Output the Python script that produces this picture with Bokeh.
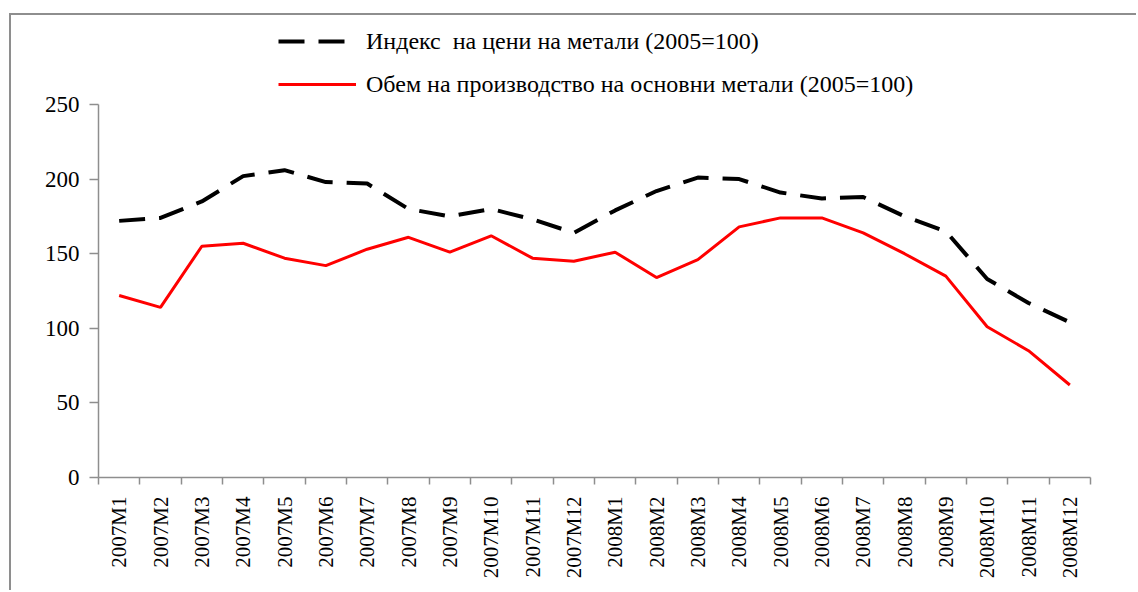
import math
from bokeh.plotting import figure
from bokeh.models import (FixedTicker, Legend, LegendItem, Range1d)
from bokeh.embed import file_html
from bokeh.resources import INLINE

months = ["2007M1", "2007M2", "2007M3", "2007M4", "2007M5", "2007M6",
          "2007M7", "2007M8", "2007M9", "2007M10", "2007M11", "2007M12",
          "2008M1", "2008M2", "2008M3", "2008M4", "2008M5", "2008M6",
          "2008M7", "2008M8", "2008M9", "2008M10", "2008M11", "2008M12"]
price_index = [172, 174, 185, 202, 206, 198, 197, 180, 175, 180, 173, 164,
               179, 192, 201, 200, 191, 187, 188, 175, 165, 133, 117, 104]
production = [122, 114, 155, 157, 147, 142, 153, 161, 151, 162, 147, 145,
              151, 134, 146, 168, 174, 174, 164, 150, 135, 101, 85, 62]
y_ticks = [0, 50, 100, 150, 200, 250]
label_price = "Индекс  на цени на метали (2005=100)"
label_prod = "Обем на производство на основни метали (2005=100)"

FONT = "Liberation Serif"
AX = "#8e8e8e"

# layout (page pixels): axis area 98..1090 x 104..477, frame extended up to 20
Y_MAX = 250
frame_top, axis_top, axis_bottom = 20, 104, 477
y_end = Y_MAX * (axis_bottom - frame_top) / (axis_bottom - axis_top)

xs = [i + 0.5 for i in range(len(months))]

p = figure(width=1127, height=577, output_backend="svg", toolbar_location=None,
           x_range=Range1d(0, len(months)), y_range=Range1d(0, y_end),
           min_border_left=87, min_border_right=48, min_border_top=5,
           min_border_bottom=115)
p.styles = {"border-left": "2px solid #8e8e8e", "border-top": "2px solid #8e8e8e",
            "margin-left": "9px", "margin-top": "13px"}
p.outline_line_color = None
p.xgrid.grid_line_color = None
p.ygrid.grid_line_color = None
p.background_fill_color = "white"
p.border_fill_color = "white"

r1 = p.line(xs, price_index, line_color="black", line_width=4, line_dash="26 14")
r2 = p.line(xs, production, line_color="#ff0000", line_width=3)

# y axis
ya = p.yaxis[0]
ya.bounds = (0, Y_MAX)
ya.ticker = FixedTicker(ticks=y_ticks)
ya.axis_line_color = AX
ya.axis_line_width = 1.5
ya.major_tick_line_color = AX
ya.major_tick_line_width = 1.5
ya.major_tick_out = 9
ya.major_tick_in = 0
ya.minor_tick_line_color = None
ya.major_label_text_font = FONT
ya.major_label_text_font_size = "23px"
ya.major_label_text_color = "black"
ya.major_label_standoff = 10

# x axis
xa = p.xaxis[0]
xa.ticker = FixedTicker(ticks=xs, minor_ticks=list(range(len(months) + 1)))
xa.major_label_overrides = {x: m for x, m in zip(xs, months)}
xa.axis_line_color = AX
xa.axis_line_width = 1.5
xa.major_tick_line_color = None
xa.major_tick_out = 0
xa.major_tick_in = 0
xa.minor_tick_line_color = AX
xa.minor_tick_line_width = 1.5
xa.minor_tick_out = 7
xa.minor_tick_in = 0
xa.major_label_orientation = math.pi / 2
xa.major_label_text_font = FONT
xa.major_label_text_font_size = "21px"
xa.major_label_text_color = "black"
xa.major_label_standoff = 12

legend = Legend(items=[LegendItem(label=label_price, renderers=[r1]),
                       LegendItem(label=label_prod, renderers=[r2])],
                location=(180, 379), orientation="vertical",
                padding=0, margin=0, spacing=15,
                glyph_width=78, glyph_height=28, label_height=28,
                label_standoff=10,
                label_text_font=FONT, label_text_font_size="24px",
                label_text_color="black",
                border_line_color=None, background_fill_alpha=0)
p.add_layout(legend, "center")

open("out.html", "w").write(file_html(p, INLINE))
